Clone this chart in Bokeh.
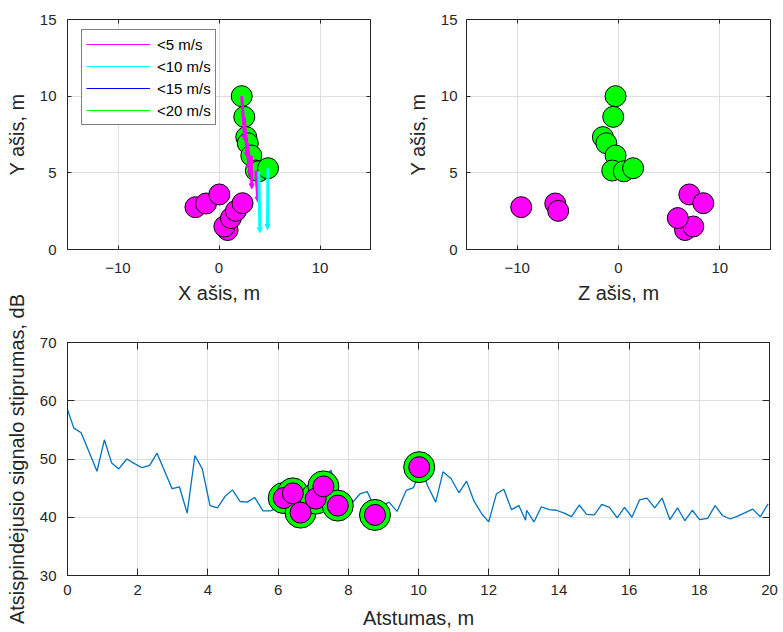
from bokeh.plotting import figure
from bokeh.models import (Range1d, FixedTicker, LinearAxis, Arrow, NormalHead,
                          ColumnDataSource, Legend, LegendItem)
from bokeh.layouts import column, row
from bokeh.embed import file_html
from bokeh.resources import INLINE

# ---------------- data ----------------
# fish echoes, coloured by group (green = moving, magenta = others)
green_x = [2.25, 2.50, 2.70, 2.85, 3.20, 3.65, 3.95, 4.85]
green_y = [10.00, 8.65, 7.33, 6.93, 6.13, 5.15, 5.10, 5.30]
green_z = [-0.29, -0.52, -1.54, -1.20, -0.29, -0.62, 0.52, 1.44]

# velocity arrows from the green echoes (end points in X/Y plane)
arrow_x_end = [2.55, 2.80, 3.00, 3.10, 3.25, 3.85, 4.05, 4.80]
arrow_y_end = [7.10, 6.00, 5.20, 4.80, 3.96, 3.09, 1.10, 1.30]
arrow_class = ["<5 m/s"] * 6 + ["<10 m/s"] * 2

magenta_x = [-2.33, -1.28, 0.03, 0.85, 0.53, 1.18, 1.67, 2.33]
magenta_y = [2.76, 3.00, 3.59, 1.27, 1.50, 2.05, 2.52, 3.02]
magenta_z = [-9.60, -6.24, 6.99, 6.57, 7.38, 5.85, -5.95, 8.37]

legend_labels = ["<5 m/s", "<10 m/s", "<15 m/s", "<20 m/s"]
legend_colors = ["#ff00ff", "#00ffff", "#0000ff", "#00ff00"]

# reflected signal strength vs distance
distance = [0.00, 0.18, 0.39, 0.84, 1.05, 1.26, 1.46, 1.69, 1.91, 2.12,
            2.34, 2.55, 2.98, 3.19, 3.41, 3.63, 3.84, 4.06, 4.27, 4.49,
            4.70, 4.92, 5.12, 5.33, 5.57, 5.78, 6.00, 6.21, 6.43, 6.65,
            6.86, 7.08, 7.29, 7.50, 7.72, 7.90, 8.10, 8.33, 8.54, 8.76,
            8.97, 9.16, 9.39, 9.65, 9.86, 10.07, 10.26, 10.49, 10.70, 10.93,
            11.15, 11.37, 11.58, 11.80, 12.00, 12.22, 12.43, 12.65, 12.86, 13.05,
            13.08, 13.29, 13.50, 13.72, 13.93, 14.15, 14.36, 14.58, 14.79, 15.01,
            15.22, 15.44, 15.66, 15.87, 16.08, 16.30, 16.51, 16.73, 16.94, 17.16,
            17.38, 17.59, 17.80, 18.01, 18.24, 18.45, 18.66, 18.88, 19.09, 19.31,
            19.52, 19.74, 19.96]
signal_db = [58.5, 55.3, 54.5, 47.9, 53.3, 49.3, 48.3, 50.0, 49.2, 48.5,
             48.9, 51.0, 44.9, 45.2, 40.7, 50.6, 48.3, 42.0, 41.6, 43.6,
             44.7, 42.7, 42.6, 43.4, 41.1, 41.1, 41.6, 42.8, 43.5, 42.5,
             44.0, 45.5, 46.0, 48.1, 44.5, 42.0, 42.4, 44.0, 44.4, 41.5,
             42.0, 42.6, 41.0, 44.6, 45.1, 48.5, 45.4, 42.6, 47.8, 46.6,
             44.2, 46.2, 42.8, 40.6, 39.2, 44.0, 44.8, 41.3, 42.0, 39.5,
             41.2, 39.2, 41.8, 41.3, 41.2, 40.7, 40.1, 42.1, 40.5, 40.4,
             42.2, 41.7, 39.9, 41.7, 40.0, 43.0, 43.3, 41.6, 43.3, 39.6,
             41.6, 39.4, 41.2, 39.6, 39.8, 42.0, 40.3, 39.7, 40.2, 40.8,
             41.4, 40.1, 42.3]

echo_dist = [6.16, 6.42, 6.64, 7.07, 7.29, 7.70, 8.76, 10.02]
echo_db = [43.3, 44.1, 40.8, 43.2, 45.3, 42.0, 40.4, 48.6]

# ---------------- styling ----------------
FONT = "Liberation Sans"
TXT = "#262626"
GRID = "#dfdfdf"
NAN = float("nan")


def make_fig(width, height, xr, yr, xticks, yticks, xlabel, ylabel,
             borders, tick_len, xstand, ystand, xlab_stand, ylab_stand, **kw):
    p = figure(width=width, height=height,
               x_range=Range1d(*xr), y_range=Range1d(*yr),
               output_backend="svg", toolbar_location=None,
               min_border_left=borders[0], min_border_right=borders[1],
               min_border_top=borders[2], min_border_bottom=borders[3], **kw)
    p.add_layout(LinearAxis(), "right")
    p.add_layout(LinearAxis(), "above")
    for ax in p.xaxis:
        ax.ticker = FixedTicker(ticks=xticks)
    for ax in p.yaxis:
        ax.ticker = FixedTicker(ticks=yticks)
    p.xgrid.ticker = FixedTicker(ticks=xticks)
    p.ygrid.ticker = FixedTicker(ticks=yticks)
    p.grid.grid_line_color = GRID
    p.grid.grid_line_width = 1
    for ax in p.axis:
        ax.axis_line_color = TXT
        ax.major_tick_line_color = TXT
        ax.major_tick_in = tick_len
        ax.major_tick_out = 0
        ax.minor_tick_line_color = None
        ax.major_label_text_font = FONT
        ax.major_label_text_font_size = "15px"
        ax.major_label_text_color = TXT
        ax.axis_label_text_font = FONT
        ax.axis_label_text_font_size = "20px"
        ax.axis_label_text_font_style = "normal"
        ax.axis_label_text_color = TXT
    # secondary (box) axes: ticks only
    for ax in p.right + p.above:
        ax.major_label_text_color = None
        ax.major_label_text_font_size = "0px"
        ax.major_label_standoff = 0
    p.below[0].axis_label = xlabel
    p.below[0].major_label_standoff = xstand
    p.below[0].axis_label_standoff = xlab_stand
    p.left[0].axis_label = ylabel
    p.left[0].major_label_standoff = ystand
    p.left[0].axis_label_standoff = ylab_stand
    neg = {t: ("\u2212" + str(abs(t))) for t in xticks if t < 0}
    if neg:
        p.below[0].major_label_overrides = neg
    p.outline_line_color = TXT
    p.background_fill_color = "white"
    return p


# ---------- top-left: X / Y ----------
p1 = make_fig(400, 320, (-15, 15), (0, 15), [-10, 0, 10], [0, 5, 10, 15],
              "X ašis, m", "Y ašis, m", (67, 30, 19, 71), 4, 13, 11, 6, 9)
p1.scatter(green_x, green_y, size=21, fill_color="#00ff00",
           line_color="black", line_width=1)
for cls, col in [("<5 m/s", "#ff00ff"), ("<10 m/s", "#00ffff")]:
    idx = [i for i, c in enumerate(arrow_class) if c == cls]
    src = ColumnDataSource(dict(
        x0=[green_x[i] for i in idx], y0=[green_y[i] for i in idx],
        x1=[arrow_x_end[i] for i in idx], y1=[arrow_y_end[i] for i in idx]))
    p1.add_layout(Arrow(end=NormalHead(size=5, fill_color=col, line_color=col, line_width=1),
                        x_start="x0", y_start="y0", x_end="x1", y_end="y1",
                        source=src, line_color=col, line_width=3))
p1.scatter(magenta_x, magenta_y, size=21, fill_color="#ff00ff",
           line_color="black", line_width=1)

# legend entries (speed classes); the renderers only carry the legend style
items = []
for lab, col in zip(legend_labels, legend_colors):
    r = p1.line(x=[NAN, NAN], y=[NAN, NAN], line_color=col, line_width=1.2)
    items.append(LegendItem(label=lab, renderers=[r]))
leg = Legend(items=items, location=(14, 124), glyph_width=64, glyph_height=20,
             label_height=20, label_standoff=7, padding=4, spacing=2, margin=0,
             border_line_color="black", border_line_width=1,
             background_fill_color="white", background_fill_alpha=1,
             label_text_font=FONT, label_text_font_size="15px",
             label_text_color="black")
p1.add_layout(leg)

# ---------- top-right: Z / Y ----------
p2 = make_fig(383, 320, (-15, 15), (0, 15), [-10, 0, 10], [0, 5, 10, 15],
              "Z ašis, m", "Y ašis, m", (66, 13, 19, 71), 4, 13, 9, 6, 9)
p2.scatter(green_z, green_y, size=21, fill_color="#00ff00",
           line_color="black", line_width=1)
p2.scatter(magenta_z, magenta_y, size=21, fill_color="#ff00ff",
           line_color="black", line_width=1)

# ---------- bottom: signal strength ----------
p3 = make_fig(783, 342, (0, 20), (30, 70), list(range(0, 21, 2)), [30, 40, 50, 60, 70],
              "Atstumas, m", "Atsispindėjusio signalo stiprumas, dB",
              (67, 14, 52, 57), 7, 9, 11, 9, 9, margin=(-30, 0, 0, 0))
p3.border_fill_color = None
p3.line(distance, signal_db, line_color="#0072BD", line_width=1.3)
p3.scatter(echo_dist, echo_db, size=31, fill_color="#00ff00",
           line_color="black", line_width=1)
p3.scatter(echo_dist, echo_db, size=21, fill_color="#ff00ff",
           line_color="black", line_width=1)

layout = column(row(p1, p2), p3)
open("out.html", "w").write(file_html(layout, INLINE))
